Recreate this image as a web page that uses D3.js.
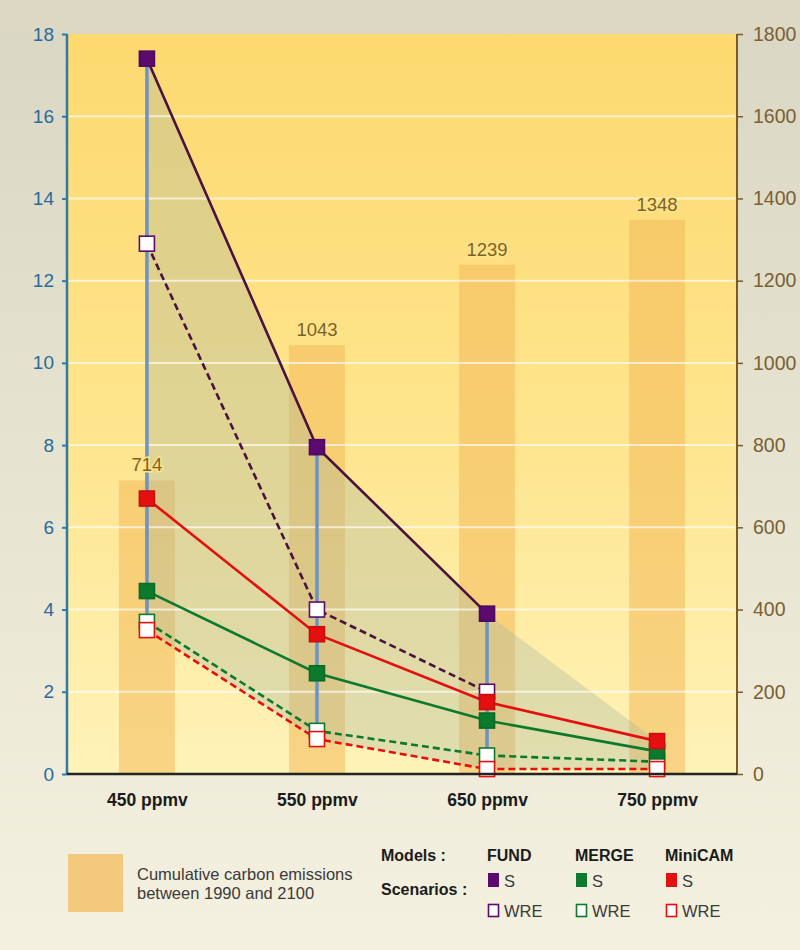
<!DOCTYPE html>
<html>
<head>
<meta charset="utf-8">
<script src="https://cdn.jsdelivr.net/npm/d3@7"></script>
<style>
  html, body { margin: 0; padding: 0; }
  body { width: 800px; height: 950px; overflow: hidden; }
</style>
</head>
<body>
<div id="chart"></div>
<script>
// stabilisation cost chart: model results per concentration target + cumulative emissions bars
const scenarios = ["450 ppmv", "550 ppmv", "650 ppmv", "750 ppmv"];
const cumulativeEmissions = [714, 1043, 1239, 1348];

const fundS = [17.4, 7.95, 3.9, null];
const fundWRE = [12.9, 4.0, 2.0, null];
const mergeS = [4.45, 2.45, 1.3, 0.55];
const mergeWRE = [3.7, 1.05, 0.45, 0.3];
const minicamS = [6.7, 3.4, 1.75, 0.8];
const minicamWRE = [3.5, 0.85, 0.12, 0.12];

const leftTicks = [0, 2, 4, 6, 8, 10, 12, 14, 16, 18];
const rightTicks = [0, 200, 400, 600, 800, 1000, 1200, 1400, 1600, 1800];

const models = ["FUND", "MERGE", "MiniCAM"];
const modelColors = ["#5b0a6e", "#0b7a2c", "#e41010"];
const lineColors = ["#4a123f", "#0b7a2c", "#e41010"];

const series = [
  { model: 0, scen: "WRE", values: fundWRE },
  { model: 0, scen: "S", values: fundS },
  { model: 1, scen: "WRE", values: mergeWRE },
  { model: 1, scen: "S", values: mergeS },
  { model: 2, scen: "WRE", values: minicamWRE },
  { model: 2, scen: "S", values: minicamS }
];

const W = 800, H = 950;
const pLeft = 67, pRight = 737, pTop = 34, pBottom = 774;

const svg = d3.select("#chart").append("svg")
  .attr("width", W).attr("height", H)
  .style("font-family", "'Liberation Sans', Arial, sans-serif");

const defs = svg.append("defs");
const pageGrad = defs.append("linearGradient").attr("id", "pageBg")
  .attr("x1", 0).attr("y1", 0).attr("x2", 0).attr("y2", 1);
pageGrad.append("stop").attr("offset", "0%").attr("stop-color", "#d9d6c3");
pageGrad.append("stop").attr("offset", "100%").attr("stop-color", "#f4f1e0");

const plotGrad = defs.append("linearGradient").attr("id", "plotBg")
  .attr("x1", 0).attr("y1", 0).attr("x2", 0).attr("y2", 1);
plotGrad.append("stop").attr("offset", "0%").attr("stop-color", "#fdd96f");
plotGrad.append("stop").attr("offset", "55%").attr("stop-color", "#fee58e");
plotGrad.append("stop").attr("offset", "100%").attr("stop-color", "#fff3b9");

svg.append("rect").attr("width", W).attr("height", H).attr("fill", "url(#pageBg)");
svg.append("rect").attr("x", 0).attr("y", 0).attr("width", W).attr("height", 30).attr("fill", "#dcd8c4");

const x = d3.scalePoint().domain(scenarios).range([pLeft, pRight]).padding(0.47);
const y = d3.scaleLinear().domain([0, 18]).range([pBottom, pTop]);
const y2 = d3.scaleLinear().domain([0, 1800]).range([pBottom, pTop]);

svg.append("rect")
  .attr("x", pLeft).attr("y", pTop)
  .attr("width", pRight - pLeft).attr("height", pBottom - pTop)
  .attr("fill", "url(#plotBg)");

// cumulative emission bars
const barW = 56;
svg.selectAll("rect.bar")
  .data(cumulativeEmissions)
  .join("rect")
  .attr("class", "bar")
  .attr("x", (d, i) => x(scenarios[i]) - barW / 2)
  .attr("y", d => y2(d))
  .attr("width", barW)
  .attr("height", d => pBottom - y2(d))
  .attr("fill", "#f3b95a")
  .attr("opacity", 0.55);

// range envelope across models/scenarios
const envelope = scenarios.map((s, i) => {
  const vals = series.map(se => se.values[i]).filter(v => v != null);
  return { s, hi: d3.max(vals), lo: d3.min(vals) };
});
svg.append("path")
  .datum(envelope)
  .attr("d", d3.area().x(d => x(d.s)).y0(d => y(d.lo)).y1(d => y(d.hi)))
  .attr("fill", "#a9b8a0")
  .attr("opacity", 0.36);

// grid lines
svg.selectAll("line.grid")
  .data(leftTicks.filter(t => t > 0 && t < 18))
  .join("line")
  .attr("class", "grid")
  .attr("x1", pLeft + 2).attr("x2", pRight - 2)
  .attr("y1", d => y(d)).attr("y2", d => y(d))
  .attr("stroke", "#ffffff").attr("stroke-opacity", 0.65).attr("stroke-width", 2);

// vertical range lines
svg.selectAll("line.range")
  .data(envelope)
  .join("line")
  .attr("class", "range")
  .attr("x1", d => x(d.s)).attr("x2", d => x(d.s))
  .attr("y1", d => y(d.hi)).attr("y2", d => y(d.lo))
  .attr("stroke", "#6b93c4").attr("stroke-width", 3.5);

// bar value labels (over the range lines)
svg.selectAll("text.barlabel")
  .data(cumulativeEmissions)
  .join("text")
  .attr("class", "barlabel")
  .attr("x", (d, i) => x(scenarios[i]))
  .attr("y", d => y2(d) - 9)
  .attr("text-anchor", "middle")
  .attr("fill", "#7c6226")
  .attr("stroke", "#fde38a").attr("stroke-width", 3).attr("paint-order", "stroke")
  .style("font-size", "18.5px")
  .text(d => d);

// series lines
const line = d3.line()
  .defined(d => d.v != null)
  .x(d => x(d.s)).y(d => y(d.v));

series.forEach(se => {
  const pts = se.values.map((v, i) => ({ s: scenarios[i], v }));
  svg.append("path")
    .datum(pts)
    .attr("d", line)
    .attr("fill", "none")
    .attr("stroke", lineColors[se.model])
    .attr("stroke-width", 2.6)
    .attr("stroke-dasharray", se.scen === "WRE" ? "7,4" : null);
});

// markers
const ms = 15;
series.forEach(se => {
  const pts = se.values.map((v, i) => ({ s: scenarios[i], v })).filter(d => d.v != null);
  svg.selectAll(null)
    .data(pts)
    .join("rect")
    .attr("x", d => x(d.s) - ms / 2)
    .attr("y", d => y(d.v) - ms / 2)
    .attr("width", ms).attr("height", ms)
    .attr("fill", se.scen === "S" ? modelColors[se.model] : "#ffffff")
    .attr("stroke", se.scen === "S" ? d3.color(modelColors[se.model]).darker(0.4) : modelColors[se.model])
    .attr("stroke-width", 1.6);
});

// left axis
const leftAxis = svg.append("g")
  .attr("transform", `translate(${pLeft},0)`)
  .call(d3.axisLeft(y).tickValues(leftTicks).tickSize(5).tickPadding(8));
leftAxis.select(".domain").attr("stroke", "#2f7ba6").attr("stroke-width", 2.5)
  .attr("d", `M0,${pTop}V${pBottom}`);
leftAxis.selectAll(".tick line").attr("stroke", "#2f7ba6").attr("stroke-width", 2);
leftAxis.selectAll(".tick text").attr("fill", "#2a6a9c")
  .style("font-size", "19px").style("font-family", "'Liberation Sans', Arial, sans-serif");

// right axis
const rightAxis = svg.append("g")
  .attr("transform", `translate(${pRight},0)`)
  .call(d3.axisRight(y2).tickValues(rightTicks).tickFormat(d3.format("d")).tickSize(6).tickPadding(10));
rightAxis.select(".domain").attr("stroke", "#7a5b22").attr("stroke-width", 2)
  .attr("d", `M0,${pTop}V${pBottom}`);
rightAxis.selectAll(".tick line").attr("stroke", "#7a5b22").attr("stroke-width", 1.5);
rightAxis.selectAll(".tick text").attr("fill", "#7a6032")
  .style("font-size", "19.5px").style("font-family", "'Liberation Sans', Arial, sans-serif");

// bottom axis
const xAxis = svg.append("g")
  .attr("transform", `translate(0,${pBottom})`)
  .call(d3.axisBottom(x).tickSize(0).tickPadding(20));
xAxis.select(".domain").attr("stroke", "#232323").attr("stroke-width", 2.5)
  .attr("d", `M${pLeft},0H${pRight}`);
xAxis.selectAll(".tick text").attr("fill", "#1b1b1b")
  .style("font-size", "17.5px").style("font-weight", "bold")
  .style("font-family", "'Liberation Sans', Arial, sans-serif");

// legend
const lg = svg.append("g").style("font-family", "'Liberation Sans', Arial, sans-serif");
lg.append("rect").attr("x", 68).attr("y", 854).attr("width", 55).attr("height", 58)
  .attr("fill", "#f4c97d");
lg.append("text").attr("x", 137).attr("y", 880).attr("fill", "#3a3a3a")
  .style("font-size", "16.5px").text("Cumulative carbon emissions");
lg.append("text").attr("x", 137).attr("y", 899).attr("fill", "#3a3a3a")
  .style("font-size", "16.5px").text("between 1990 and 2100");

lg.append("text").attr("x", 381).attr("y", 861).attr("fill", "#1b1b1b")
  .style("font-size", "16px").style("font-weight", "bold").text("Models :");
lg.append("text").attr("x", 381).attr("y", 895).attr("fill", "#1b1b1b")
  .style("font-size", "16px").style("font-weight", "bold").text("Scenarios :");

const colX = [487, 575, 665];
models.forEach((m, i) => {
  lg.append("text").attr("x", colX[i]).attr("y", 861).attr("fill", "#1b1b1b")
    .style("font-size", "16px").style("font-weight", "bold").text(m);
  lg.append("rect").attr("x", colX[i] + 1).attr("y", 873).attr("width", 11).attr("height", 14)
    .attr("fill", modelColors[i]);
  lg.append("text").attr("x", colX[i] + 17).attr("y", 887).attr("fill", "#3a3a3a")
    .style("font-size", "16.5px").text("S");
  lg.append("rect").attr("x", colX[i] + 1.5).attr("y", 904.5).attr("width", 10).attr("height", 12)
    .attr("fill", "#ffffff").attr("stroke", modelColors[i]).attr("stroke-width", 1.6);
  lg.append("text").attr("x", colX[i] + 17).attr("y", 917).attr("fill", "#3a3a3a")
    .style("font-size", "16.5px").text("WRE");
});
</script>
</body>
</html>
